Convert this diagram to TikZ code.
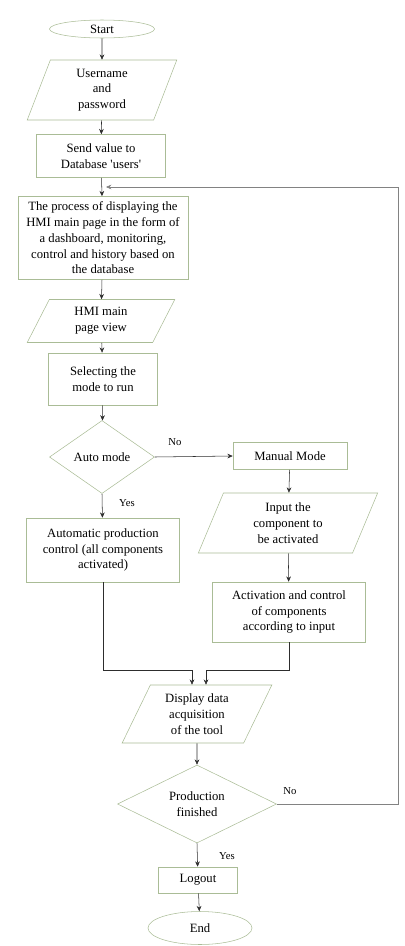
\documentclass[tikz,border=0pt]{standalone}
\usepackage{fontspec}
\setmainfont{Liberation Serif}
\usetikzlibrary{arrows.meta, positioning, shapes.geometric, calc}
\definecolor{BL}{RGB}{170,188,150}
\definecolor{DG}{RGB}{45,45,45}
\definecolor{LG}{RGB}{130,130,130}

\begin{document}
\begin{tikzpicture}[x=0.75pt, y=-0.75pt,
  txt/.style={font=\fontsize{9.5}{11.8}\selectfont, align=center, inner sep=1pt},
  proc/.style={txt, draw=BL, rectangle},
  io/.style={txt, draw=BL, trapezium, trapezium left angle=#1,
             trapezium right angle=180-#1, trapezium stretches=true},
  term/.style={txt, draw=BL, ellipse, inner sep=0pt},
  dec/.style={txt, draw=BL, diamond, aspect=1.5, inner sep=0pt},
  arr/.style={-{Stealth[length=4pt, width=3.5pt]}, draw=DG, thin},
  lbl/.style={font=\fontsize{8}{9}\selectfont, inner sep=1pt}
]
\useasboundingbox (0,0) rectangle (404,946);

% Main column
\node[term, minimum width=78.75pt, minimum height=13.5pt] (start) at (102,29) {Start};
\node[io=75, minimum width=112.5pt, minimum height=45pt] (user) at (102,90) {Username\\and\\password};
\node[proc, minimum width=96.75pt, minimum height=32.25pt] (send) at (101,156) {Send value to\\Database \textquotesingle users\textquotesingle};
\node[proc, minimum width=127.5pt, minimum height=62.25pt] (disphmi) at (103,238)
  {The process of displaying the\\HMI main page in the form of\\a dashboard, monitoring,\\control and history based on\\the database};
\node[io=68, minimum width=111pt, minimum height=32.25pt] (hmi) at (101,321) {HMI main\\page view};
\node[proc, minimum width=81.75pt, minimum height=39pt] (select) at (103,379) {Selecting the\\mode to run};
\node[dec, minimum width=78.75pt, minimum height=54.75pt] (auto) at (102,457) {Auto mode};
\node[proc, minimum width=114.75pt, minimum height=48pt] (autoctl) at (103,550)
  {Automatic production\\control (all components\\activated)};

% Manual branch
\node[proc, minimum width=85.5pt, minimum height=20.25pt] (manual) at (290,456) {Manual Mode};
\node[io=72, minimum width=135pt, minimum height=45pt] (input) at (288,523) {Input the\\component to\\be activated};
\node[proc, minimum width=114.75pt, minimum height=45pt] (act) at (289,612)
  {Activation and control\\of components\\according to input};

% Bottom
\node[io=65, minimum width=112.5pt, minimum height=43.5pt] (disp) at (197,714) {Display data\\acquisition\\of the tool};
\node[dec, minimum width=119.25pt, minimum height=58.5pt] (prod) at (197,804) {Production\\finished};
\node[proc, minimum width=59.25pt, minimum height=19.5pt] (logout) at (198,880) {Logout};
\node[term, minimum width=78pt, minimum height=24.75pt] (end) at (200,928) {End};

\coordinate (jL) at (192,670);
\coordinate (jR) at (206,670);
\coordinate (loopR) at (398,187);
\coordinate (loopIn) at (106,187);

\draw[arr] (start) -- (user);
\draw[arr] (user) -- (send);
\draw[arr] (send) -- (disphmi);
\draw[arr] (disphmi) -- (hmi);
\draw[arr] (hmi) -- (select);
\draw[arr] (select) -- (auto);
\draw[arr] (auto.south) -- (autoctl);
\draw[arr] (auto.east) -- (manual.west);
\draw[arr] (manual) -- (input);
\draw[arr] (input) -- (act);
\draw[arr] (autoctl.south) |- (jL) -- (jL |- disp.north);
\draw[arr] (act.south) |- (jR) -- (jR |- disp.north);
\draw[arr] (disp) -- (prod);
\draw[arr] (prod.south) -- (logout);
\draw[arr] (logout) -- (end);

% Loop back
\draw[arr, draw=LG] (prod.east) -| (loopR) -- (loopIn);

% Labels
\node[lbl] (no1) at (175,442) {No};
\node[lbl] (yes1) at (127,503) {Yes};
\node[lbl] (no2) at (290,791) {No};
\node[lbl] (yes2) at (227,856) {Yes};
\end{tikzpicture}
\end{document}
